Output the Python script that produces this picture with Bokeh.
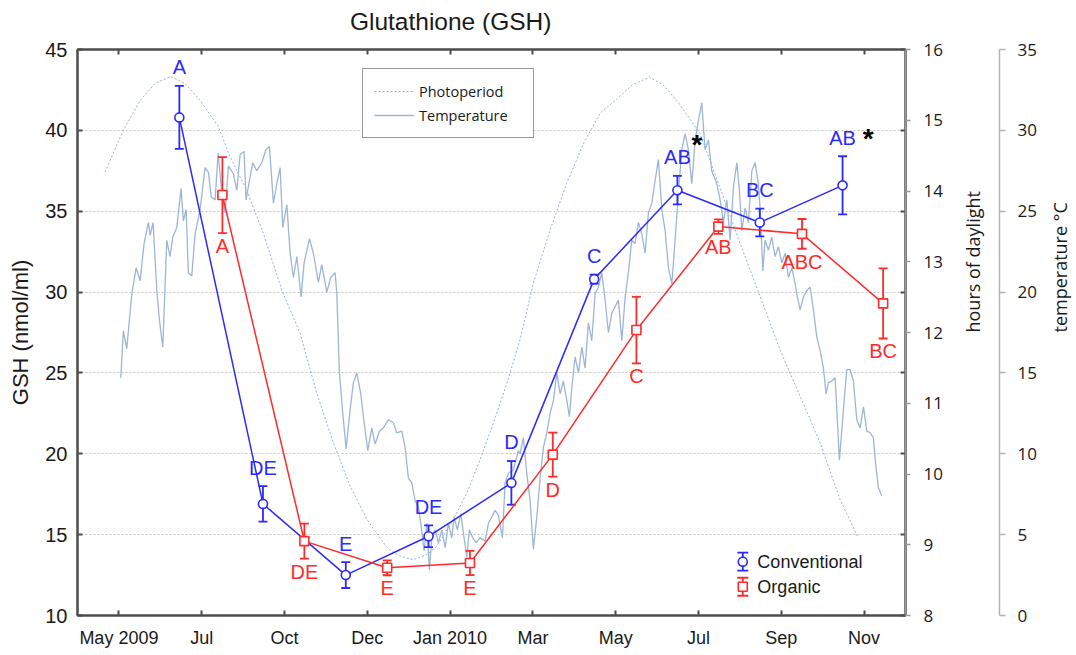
import math
from bokeh.plotting import figure
from bokeh.models import Range1d, LinearAxis, FixedTicker, Legend, LegendItem
from bokeh.core.properties import value
from bokeh.embed import file_html
from bokeh.resources import INLINE

# ---------------- data ----------------
# x positions are in tick units (tick i carries tick_labels[i])
tick_labels = ["May 2009", "Jul", "Oct", "Dec", "Jan 2010", "Mar", "May", "Jul", "Sep", "Nov"]
gsh_ticks = [10, 15, 20, 25, 30, 35, 40, 45]
hours_ticks = [8, 9, 10, 11, 12, 13, 14, 15, 16]
temp_ticks = [0, 5, 10, 15, 20, 25, 30, 35]

conv_x = [0.73, 1.74, 2.74, 3.74, 4.74, 5.74, 6.745, 7.74, 8.74]
conv_mean = [40.8, 16.9, 12.5, 14.9, 18.2, 30.8, 36.3, 34.3, 36.6]
conv_se = [1.95, 1.1, 0.8, 0.67, 1.35, 0.28, 0.88, 0.86, 1.8]
conv_letters = ["A", "DE", "E", "DE", "D", "C", "AB", "BC", "AB"]

org_x = [1.25, 2.24, 3.24, 4.24, 5.24, 6.25, 7.24, 8.25, 9.23]
org_mean = [36.0, 14.6, 12.95, 13.25, 19.95, 27.65, 34.05, 33.6, 29.3]
org_se = [2.35, 1.08, 0.46, 0.75, 1.36, 2.06, 0.45, 0.92, 2.17]
org_letters = ["A", "DE", "E", "E", "D", "C", "AB", "ABC", "BC"]

# significance asterisks (position, GSH units)
star_x = [6.98, 9.05]
star_y = [39.3, 39.7]

photo_x = [-0.167, 0.054, 0.256, 0.437, 0.624, 0.799, 0.981, 1.202, 1.343, 1.545,
           1.745, 1.967, 2.188, 2.390, 2.591, 2.792, 2.994, 3.194, 3.275, 3.396,
           3.557, 3.719, 3.831, 3.879, 4.040, 4.202, 4.362, 4.523, 4.685, 4.845,
           5.006, 5.208, 5.409, 5.610, 5.812, 5.993, 6.201, 6.408, 6.573, 6.738,
           7.019, 7.261, 7.502, 7.744, 7.986, 8.227, 8.469, 8.710, 8.928]
photo_h = [14.27, 14.86, 15.28, 15.52, 15.62, 15.52, 15.28, 14.91, 14.48, 14.01,
           13.40, 12.60, 11.99, 11.14, 10.44, 9.83, 9.36, 9.03, 8.92, 8.84,
           8.79, 8.86, 8.97, 9.05, 9.36, 9.73, 10.20, 10.72, 11.28, 11.90,
           12.70, 13.45, 14.11, 14.67, 15.10, 15.28, 15.50, 15.61, 15.50, 15.28,
           14.81, 14.04, 13.26, 12.51, 11.75, 11.10, 10.44, 9.64, 9.10]

temp_x = [0.023, 0.054, 0.095, 0.156, 0.208, 0.256, 0.304, 0.356, 0.377, 0.413,
          0.458, 0.489, 0.530, 0.578, 0.618, 0.651, 0.699, 0.751, 0.779, 0.812,
          0.839, 0.880, 0.920, 0.981, 1.041, 1.081, 1.114, 1.162, 1.198, 1.246,
          1.283, 1.322, 1.383, 1.424, 1.464, 1.512, 1.536, 1.576, 1.617, 1.665,
          1.726, 1.774, 1.818, 1.866, 1.907, 1.947, 1.979, 2.028, 2.068, 2.108,
          2.149, 2.200, 2.237, 2.301, 2.349, 2.409, 2.450, 2.511, 2.559, 2.611,
          2.632, 2.663, 2.704, 2.744, 2.792, 2.832, 2.873, 2.921, 2.953, 3.006,
          3.054, 3.094, 3.146, 3.194, 3.255, 3.315, 3.356, 3.417, 3.457, 3.496,
          3.537, 3.577, 3.617, 3.646, 3.686, 3.719, 3.750, 3.779, 3.819, 3.859,
          3.900, 3.940, 3.979, 4.020, 4.048, 4.088, 4.129, 4.161, 4.202, 4.233,
          4.274, 4.314, 4.362, 4.423, 4.463, 4.504, 4.543, 4.583, 4.632, 4.664,
          4.704, 4.764, 4.825, 4.845, 4.885, 4.926, 4.966, 5.006, 5.047, 5.087,
          5.127, 5.168, 5.208, 5.248, 5.289, 5.329, 5.368, 5.409, 5.441, 5.470,
          5.510, 5.550, 5.591, 5.630, 5.670, 5.711, 5.751, 5.791, 5.832, 5.872,
          5.912, 5.953, 5.993, 6.033, 6.074, 6.114, 6.153, 6.194, 6.234, 6.274,
          6.315, 6.355, 6.395, 6.436, 6.476, 6.516, 6.557, 6.597, 6.637, 6.678,
          6.717, 6.757, 6.798, 6.838, 6.878, 6.919, 6.959, 6.999, 7.040, 7.079,
          7.120, 7.160, 7.221, 7.261, 7.301, 7.342, 7.382, 7.422, 7.463, 7.494,
          7.523, 7.563, 7.603, 7.644, 7.684, 7.723, 7.744, 7.777, 7.804, 7.844,
          7.885, 7.925, 7.965, 8.006, 8.046, 8.086, 8.127, 8.167, 8.194, 8.227,
          8.267, 8.308, 8.348, 8.388, 8.429, 8.469, 8.509, 8.541, 8.569, 8.610,
          8.650, 8.702, 8.750, 8.791, 8.831, 8.871, 8.912, 8.952, 8.992, 9.033,
          9.072, 9.112, 9.143, 9.173, 9.212]
temp_c = [14.7, 17.6, 16.5, 19.9, 21.5, 20.7, 23.0, 24.3, 23.5, 24.3,
          20.1, 18.3, 16.6, 23.2, 22.2, 23.4, 24.0, 26.4, 24.4, 25.1,
          21.2, 21.0, 23.6, 25.1, 27.7, 27.4, 25.9, 25.7, 28.6, 26.0,
          24.9, 27.8, 27.3, 26.3, 28.5, 28.7, 25.7, 26.9, 28.0, 27.5,
          28.0, 28.8, 29.0, 25.5, 26.7, 27.7, 24.0, 25.4, 22.4, 20.9,
          22.2, 19.7, 21.8, 23.3, 22.4, 20.6, 21.7, 20.0, 20.9, 21.2,
          19.9, 15.0, 12.5, 10.3, 12.7, 14.4, 15.0, 13.7, 12.3, 10.2,
          11.6, 10.6, 11.4, 11.6, 12.1, 11.9, 11.3, 11.4, 10.4, 8.5,
          8.2, 7.1, 6.7, 5.7, 4.0, 5.7, 2.8, 4.8, 5.3, 4.5,
          5.3, 4.2, 5.7, 4.8, 6.1, 5.3, 6.3, 5.1, 3.6, 5.3,
          4.8, 4.5, 4.8, 4.6, 5.7, 6.1, 6.5, 6.2, 4.8, 8.2,
          8.8, 9.0, 10.2, 10.0, 11.0, 8.8, 7.1, 4.1, 6.1, 8.5,
          10.4, 11.3, 12.5, 13.3, 15.0, 13.7, 14.5, 13.3, 12.3, 14.1,
          16.0, 15.0, 16.6, 15.3, 18.1, 17.0, 19.9, 20.3, 21.2, 19.5,
          17.5, 18.7, 19.1, 19.5, 17.0, 19.7, 21.2, 23.2, 23.0, 24.3,
          23.6, 22.4, 24.9, 25.5, 26.9, 28.2, 25.1, 23.8, 21.5, 20.5,
          23.2, 26.1, 28.8, 29.8, 28.8, 26.7, 29.4, 30.6, 31.7, 28.8,
          29.4, 27.5, 26.7, 25.7, 24.3, 25.7, 23.2, 26.5, 28.0, 26.3,
          23.8, 25.2, 24.3, 27.5, 28.0, 26.7, 25.2, 21.3, 23.2, 22.6,
          23.4, 22.2, 22.8, 21.8, 22.4, 20.9, 21.5, 20.5, 19.7, 18.9,
          19.7, 20.1, 20.3, 18.9, 17.2, 16.4, 15.3, 13.7, 14.4, 14.5,
          14.7, 9.6, 12.7, 15.2, 15.2, 14.5, 12.1, 11.6, 12.9, 11.4,
          11.3, 11.0, 9.2, 7.9, 7.4]

# ---------------- styling ----------------
BLUE = "#2a2aff"
RED = "#ff2a2a"
FRAME = "#4d4d4d"
TXT = "#1a1a1a"
TEMP_COL = "#9db6d8"
PHOTO_COL = "#92b0e2"
ARIAL = "Liberation Sans"
SANS2 = "Open Sans"

X0, X1 = -0.5, 9.5
Y0, Y1 = 10, 45
TITLE_PAD = "\u00a0" * 12   # trailing no-break spaces shift the centred title to the left

p = figure(frame_width=828, frame_height=566,
           x_range=Range1d(X0, X1), y_range=Range1d(Y0, Y1),
           output_backend="svg", toolbar_location=None,
           min_border_left=77, min_border_top=49, min_border_right=0, min_border_bottom=0)
p.title.visible = False
p.extra_y_ranges = {"hours": Range1d(8, 16), "temp": Range1d(0, 35)}
p.outline_line_color = FRAME
p.outline_line_width = 2
p.background_fill_color = "white"
p.border_fill_color = "white"

p.xgrid.visible = False
p.ygrid.ticker = FixedTicker(ticks=gsh_ticks)
p.ygrid.grid_line_color = "#c4c4c4"
p.ygrid.grid_line_dash = "2 2"
p.ygrid.grid_line_width = 1

# left axis
ya = p.yaxis[0]
ya.ticker = FixedTicker(ticks=gsh_ticks)
ya.major_tick_in = 5
ya.major_tick_out = 0
ya.minor_tick_line_color = None
ya.axis_line_color = FRAME
ya.axis_line_width = 2
ya.major_tick_line_color = FRAME
ya.major_tick_line_width = 2
ya.major_label_text_font = ARIAL
ya.major_label_text_font_size = "20px"
ya.major_label_text_color = TXT
ya.major_label_standoff = 10
ya.axis_label = "GSH (nmol/ml)"
ya.axis_label_text_font = ARIAL
ya.axis_label_text_font_size = "22px"
ya.axis_label_text_font_style = "normal"
ya.axis_label_text_color = TXT
ya.axis_label_standoff = 9

# bottom axis
xa = p.xaxis[0]
xa.ticker = FixedTicker(ticks=list(range(len(tick_labels))))
xa.major_label_overrides = {i: lab for i, lab in enumerate(tick_labels)}
xa.major_tick_in = 5
xa.major_tick_out = 0
xa.minor_tick_line_color = None
xa.axis_line_color = FRAME
xa.axis_line_width = 2
xa.major_tick_line_color = FRAME
xa.major_tick_line_width = 2
xa.major_label_text_font = ARIAL
xa.major_label_text_font_size = "18px"
xa.major_label_text_color = TXT
xa.major_label_standoff = 12


def inner_ticks(ticks, gap):
    # frame edge with inward ticks; hidden labels only reserve space
    return LinearAxis(ticker=FixedTicker(ticks=ticks),
                      major_tick_in=5, major_tick_out=0, minor_tick_line_color=None,
                      axis_line_color=FRAME, axis_line_width=2,
                      major_tick_line_color=FRAME, major_tick_line_width=2,
                      major_label_text_color=None, major_label_text_font_size="1px",
                      major_label_standoff=gap)


p.add_layout(inner_ticks(list(range(len(tick_labels))), 0), "above")
p.add_layout(inner_ticks(gsh_ticks, 5), "right")

# chart title, carried by an unmarked top axis
title_axis = LinearAxis(ticker=FixedTicker(ticks=[]),
                        axis_line_color=None, major_tick_line_color=None,
                        minor_tick_line_color=None, major_label_text_color=None,
                        major_tick_in=0, major_tick_out=0,
                        axis_label="Glutathione (GSH)" + TITLE_PAD, axis_label_text_font=ARIAL,
                        axis_label_text_font_size="24.5px", axis_label_text_font_style="normal",
                        axis_label_text_color=TXT, axis_label_standoff=15)
p.add_layout(title_axis, "above")

has_orient = "axis_label_orientation" in LinearAxis.properties()


def side_axis(rng, ticks, label, color, tick_out, standoff, lab_standoff):
    ax = LinearAxis(y_range_name=rng, ticker=FixedTicker(ticks=ticks),
                    major_tick_in=0, major_tick_out=tick_out, minor_tick_line_color=None,
                    axis_line_color=color, axis_line_width=1.5,
                    major_tick_line_color=color, major_tick_line_width=1.5,
                    major_label_text_font=SANS2, major_label_text_font_size="17px",
                    major_label_text_color=TXT, major_label_standoff=standoff,
                    axis_label=label, axis_label_text_font=SANS2,
                    axis_label_text_font_size="18px", axis_label_text_font_style="normal",
                    axis_label_text_color=TXT, axis_label_standoff=lab_standoff)
    if has_orient:
        ax.axis_label_orientation = math.pi / 2
    return ax


p.add_layout(side_axis("hours", hours_ticks, "hours of daylight", "#9a9a9a", 5, 13, 27), "right")
p.add_layout(side_axis("temp", temp_ticks, "temperature °C", "#b4b4b4", 6, 12, 20), "right")

# ---------------- environment curves ----------------
r_photo = p.line(photo_x, photo_h, y_range_name="hours", line_color=PHOTO_COL,
                 line_width=1, line_dash="2 2")
r_temp = p.line(temp_x, temp_c, y_range_name="temp", line_color=TEMP_COL, line_width=1.3)


# ---------------- series ----------------
def series(xs, means, ses, color, marker):
    lo = [m - s for m, s in zip(means, ses)]
    hi = [m + s for m, s in zip(means, ses)]
    p.line(xs, means, line_color=color, line_width=1.5)
    p.segment(x0=xs, y0=lo, x1=xs, y1=hi, line_color=color, line_width=1.8)
    p.scatter(xs, lo, marker="dash", size=9, line_color=color, line_width=1.8)
    p.scatter(xs, hi, marker="dash", size=9, line_color=color, line_width=1.8)
    p.scatter(xs, means, marker=marker, size=9, fill_color="white",
              line_color=color, line_width=1.6)
    return lo, hi


c_lo, c_hi = series(conv_x, conv_mean, conv_se, BLUE, "circle")
o_lo, o_hi = series(org_x, org_mean, org_se, RED, "square")

p.text(x=conv_x, y=[h + 1.15 for h in c_hi], text=conv_letters,
       text_color=BLUE, text_font=value(ARIAL), text_font_size="20px",
       text_align="center", text_baseline="middle")
p.text(x=org_x, y=[l - 0.8 for l in o_lo], text=org_letters,
       text_color=RED, text_font=value(ARIAL), text_font_size="20px",
       text_align="center", text_baseline="middle")
p.text(x=star_x, y=[s - 0.2 for s in star_y], text=["*"] * len(star_x),
       text_color="black", text_font=value(ARIAL), text_font_size="28px",
       text_font_style="bold", text_align="center", text_baseline="middle")

# ---------------- legend: photoperiod / temperature ----------------
legend = Legend(items=[LegendItem(label="Photoperiod", renderers=[r_photo]),
                       LegendItem(label="Temperature", renderers=[r_temp])],
                location=(285, 477), margin=0, padding=11, spacing=2,
                glyph_width=40, glyph_height=22, label_height=22, label_width=103,
                label_standoff=5, border_line_color="#333333", border_line_width=1,
                background_fill_color="white", background_fill_alpha=1,
                label_text_font=SANS2, label_text_font_size="14.5px", label_text_color=TXT)
p.add_layout(legend)

# ---------------- legend: Conventional / Organic (placed by frame fractions) ----------------
gx = X1 - 0.1965 * (X1 - X0)
tx = gx + 0.0176 * (X1 - X0)
gy = [Y0 + 0.0951 * (Y1 - Y0), Y0 + 0.0508 * (Y1 - Y0)]
half = 0.0159 * (Y1 - Y0)
for yy, col, mk in zip(gy, [BLUE, RED], ["circle", "square"]):
    p.segment(x0=[gx], y0=[yy - half], x1=[gx], y1=[yy + half], line_color=col, line_width=1.8)
    p.scatter([gx, gx], [yy - half, yy + half], marker="dash", size=11, line_color=col, line_width=1.8)
    p.scatter([gx], [yy], marker=mk, size=9, fill_color="white", line_color=col, line_width=1.6)
p.text(x=[tx, tx], y=gy, text=["Conventional", "Organic"], text_color=TXT,
       text_font=value(ARIAL), text_font_size="18px",
       text_align="left", text_baseline="middle")

open("out.html", "w").write(file_html(p, INLINE))
